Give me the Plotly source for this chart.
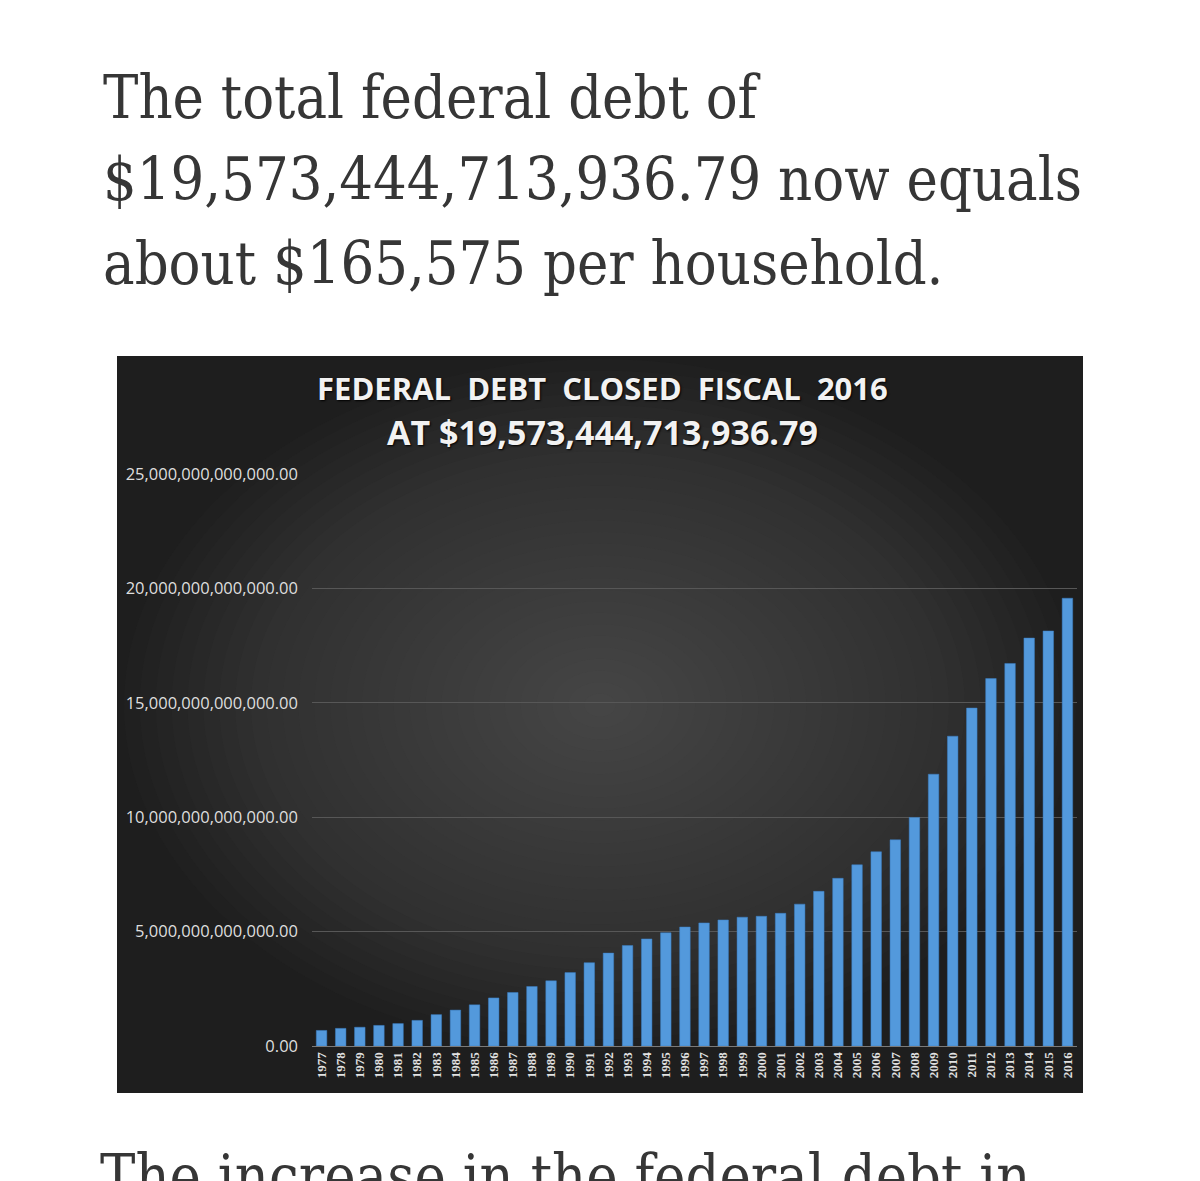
import plotly.graph_objects as go

# ---- data ----
years = ["1977", "1978", "1979", "1980", "1981", "1982", "1983", "1984", "1985", "1986",
         "1987", "1988", "1989", "1990", "1991", "1992", "1993", "1994", "1995", "1996",
         "1997", "1998", "1999", "2000", "2001", "2002", "2003", "2004", "2005", "2006",
         "2007", "2008", "2009", "2010", "2011", "2012", "2013", "2014", "2015", "2016"]
debt_trillions = [0.68, 0.77, 0.82, 0.90, 0.98, 1.12, 1.37, 1.57, 1.80, 2.10,
                  2.34, 2.60, 2.85, 3.21, 3.64, 4.06, 4.39, 4.68, 4.95, 5.20,
                  5.38, 5.51, 5.63, 5.67, 5.80, 6.20, 6.76, 7.33, 7.92, 8.49,
                  9.01, 9.99, 11.88, 13.54, 14.77, 16.06, 16.72, 17.83, 18.14, 19.57]
debt = [v * 1e12 for v in debt_trillions]
y_ticks = [0, 5e12, 10e12, 15e12, 20e12, 25e12]

chart_title_1 = "FEDERAL  DEBT  CLOSED  FISCAL  2016"
chart_title_2 = "AT $19,573,444,713,936.79"
para_lines = ["The total federal debt of",
              "$19,573,444,713,936.79 now equals",
              "about $165,575 per household."]
prev_line = "households."
next_line = "The increase in the federal debt in"

W, H = 1200, 1181


def fx(px):
    return px / W


def fy(px):
    return 1 - px / H


txt_family = "DejaVu Serif Condensed, DejaVu Serif, serif"
txt_size = 59
txt_color = "#363636"

fig = go.Figure()
fig.add_trace(go.Bar(
    x=years, y=debt,
    marker=dict(color="#5399dc", line=dict(color="#3b7fc4", width=0.5)),
    hoverinfo="x+y",
))
# paragraph lines cut by the page edges (clipped to thin strips at top and bottom)
fig.add_trace(go.Scatter(x=[100], y=[-18], mode="text", text=[prev_line],
                         textposition="middle right", cliponaxis=True, hoverinfo="skip",
                         textfont=dict(family=txt_family, size=txt_size, color=txt_color),
                         xaxis="x2", yaxis="y2"))
fig.add_trace(go.Scatter(x=[100], y=[1182], mode="text", text=[next_line],
                         textposition="middle right", cliponaxis=True, hoverinfo="skip",
                         textfont=dict(family=txt_family, size=txt_size, color=txt_color),
                         xaxis="x2", yaxis="y3"))

shapes = []
# dark chart backdrop
shapes.append(dict(type="rect", xref="paper", yref="paper",
                   x0=fx(117), x1=fx(1083), y0=fy(1093), y1=fy(356),
                   fillcolor="#1e1e1e", line=dict(width=0), layer="below"))
# soft radial glow (style only)
cx, cy = 600, 705
n = 30
for i in range(n):
    f = 1 - i / n
    rx, ry = 476 * f, 346 * f
    shapes.append(dict(type="circle", xref="paper", yref="paper",
                       x0=fx(cx - rx), x1=fx(cx + rx), y0=fy(cy + ry), y1=fy(cy - ry),
                       fillcolor="rgba(98,98,98,0.044)", line=dict(width=0), layer="below"))

annotations = []
txt_font = dict(family=txt_family, size=txt_size, color=txt_color)
for line, cyp in zip(para_lines, [98, 180, 263]):
    annotations.append(dict(text=line, xref="paper", yref="paper", x=fx(101), y=fy(cyp),
                            xanchor="left", yanchor="middle", showarrow=False, font=txt_font))

annotations.append(dict(text=chart_title_1, xref="paper", yref="paper", x=fx(603), y=fy(388.5),
                        xanchor="center", yanchor="middle", showarrow=False,
                        font=dict(family="Open Sans, sans-serif", size=31, color="#f2f2f2",
                                  weight="bold", shadow="1px 1px 2px #000000")))
annotations.append(dict(text=chart_title_2, xref="paper", yref="paper", x=fx(602), y=fy(432),
                        xanchor="center", yanchor="middle", showarrow=False,
                        font=dict(family="Open Sans, sans-serif", size=34, color="#f2f2f2",
                                  weight="bold", shadow="1px 1px 2px #000000")))

fig.update_layout(
    width=W, height=H,
    margin=dict(l=0, r=0, t=0, b=0, pad=0, autoexpand=False),
    paper_bgcolor="white",
    plot_bgcolor="rgba(0,0,0,0)",
    showlegend=False,
    bargap=0.45,
    shapes=shapes,
    annotations=annotations,
    xaxis=dict(domain=[fx(312), fx(1077)], type="category", tickangle=-90, automargin=False,
               tickfont=dict(family="Liberation Serif, serif", size=13, color="#e2e2e2", weight="bold"),
               showgrid=False, showline=True, linecolor="#7a7a7a", linewidth=1,
               ticks="", fixedrange=True),
    yaxis=dict(domain=[fy(1046), fy(474)], range=[0, 25e12], tickvals=y_ticks, automargin=False,
               tickformat=",.2f",
               tickfont=dict(family="Open Sans, sans-serif", size=16.5, color="#dedede"),
               showgrid=True, gridcolor="#575757", gridwidth=1, zeroline=False,
               ticklabelstandoff=13, fixedrange=True),
    xaxis2=dict(domain=[0, 1], range=[0, W], visible=False, anchor="y2", automargin=False,
                fixedrange=True),
    yaxis2=dict(domain=[fy(40), 1], range=[40, 0], visible=False, anchor="x2", automargin=False,
                fixedrange=True),
    yaxis3=dict(domain=[0, fy(1120)], range=[H, 1120], visible=False, anchor="x2",
                automargin=False, fixedrange=True),
)

fig.write_html("out.html", config={"displayModeBar": False},
               post_script="document.body.style.margin='0px';document.body.style.overflow='hidden';")
